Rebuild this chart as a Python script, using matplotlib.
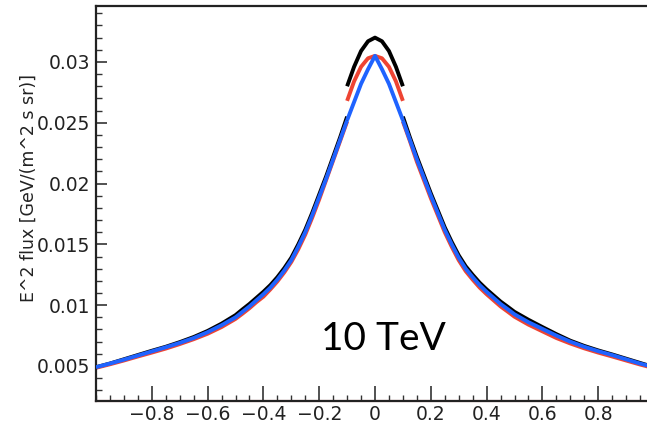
import matplotlib
matplotlib.use("Agg")
import matplotlib.pyplot as plt
from matplotlib.ticker import MultipleLocator, FuncFormatter

# ---- data ----
x_left = [-1.0, -0.95, -0.9, -0.85, -0.8, -0.75, -0.7, -0.65, -0.6, -0.55, -0.5,
          -0.475, -0.45, -0.425, -0.4, -0.375, -0.35, -0.325, -0.3, -0.275, -0.25,
          -0.225, -0.2, -0.175, -0.15, -0.125, -0.1]
blue_left = [0.0049, 0.0052, 0.00552, 0.00586, 0.0062, 0.00654, 0.0069, 0.0073, 0.00778,
             0.00835, 0.0090, 0.00945, 0.0099, 0.0104, 0.0109, 0.01145, 0.0121, 0.01285, 0.0137,
             0.0148, 0.0160, 0.0174, 0.0189, 0.0204, 0.0220, 0.0236, 0.0252]
black_left = [0.0049, 0.0052, 0.00555, 0.0059, 0.00625, 0.00658, 0.00696, 0.00738, 0.00788,
              0.00848, 0.00918, 0.00965, 0.0101, 0.0106, 0.0111, 0.01165, 0.0123, 0.01305, 0.0139,
              0.0150, 0.0162, 0.0176, 0.0191, 0.0206, 0.0222, 0.0238, 0.0255]
red_left = [0.00485, 0.00514, 0.00545, 0.00578, 0.0061, 0.00643, 0.0068, 0.0072, 0.00765,
            0.0082, 0.00887, 0.0093, 0.00975, 0.01025, 0.0107, 0.0113, 0.01195, 0.0127, 0.01355,
            0.0146, 0.0158, 0.0172, 0.0187, 0.0203, 0.0219, 0.0235, 0.0251]

x_right = [0.1, 0.125, 0.15, 0.175, 0.2, 0.225, 0.25, 0.275, 0.3, 0.325, 0.35, 0.375,
           0.4, 0.425, 0.45, 0.475, 0.5, 0.55, 0.6, 0.65, 0.7, 0.75, 0.8, 0.85, 0.9, 0.95, 1.0]
blue_right = [0.0252, 0.0236, 0.0220, 0.0205, 0.0190, 0.0176, 0.0162, 0.0150, 0.0139,
              0.0130, 0.0123, 0.01165, 0.0111, 0.0106, 0.0101, 0.00968, 0.00925, 0.0086,
              0.00805, 0.0075, 0.00700, 0.00658, 0.00622, 0.0059, 0.00555, 0.0052, 0.0049]
black_right = [0.0255, 0.0238, 0.0222, 0.0207, 0.0192, 0.0178, 0.0164, 0.0152, 0.0141,
               0.0132, 0.0125, 0.01185, 0.0113, 0.0108, 0.0103, 0.00988, 0.00945, 0.0088,
               0.0082, 0.00762, 0.00708, 0.00665, 0.00628, 0.00595, 0.0056, 0.00525, 0.0049]
red_right = [0.0251, 0.0235, 0.0218, 0.0203, 0.0188, 0.0174, 0.0160, 0.0148, 0.0137,
             0.0128, 0.0121, 0.01145, 0.0109, 0.0104, 0.0099, 0.00948, 0.00905, 0.0084,
             0.00785, 0.0073, 0.00685, 0.00645, 0.0061, 0.00578, 0.00545, 0.00512, 0.00482]

x_center = [-0.1, -0.075, -0.05, -0.025, 0.0, 0.025, 0.05, 0.075, 0.1]
blue_center = [0.0252, 0.0267, 0.0282, 0.0294, 0.0305, 0.0294, 0.0282, 0.0267, 0.0252]
black_center = [0.0280, 0.0296, 0.0309, 0.0317, 0.0320, 0.0317, 0.0309, 0.0296, 0.0280]
red_center = [0.0268, 0.0284, 0.0296, 0.0303, 0.0305, 0.0303, 0.0296, 0.0284, 0.0268]

xtick_vals = [-0.8, -0.6, -0.4, -0.2, 0.0, 0.2, 0.4, 0.6, 0.8]
ytick_vals = [0.005, 0.01, 0.015, 0.02, 0.025, 0.03]
ylabel = "E^2 flux [GeV/(m^2 s sr)]"
annotation = "10 TeV"

# ---- figure ----
W, H = 647, 424
fig = plt.figure(figsize=(W / 100, H / 100), dpi=100)
left, right, bottom, top = 96, 654, 401, 6
ax = fig.add_axes([left / W, (H - bottom) / H, (right - left) / W, (bottom - top) / H])

black = "#000000"
red = "#ee4433"
blue = "#1f63ff"
lw = 2.8

for xs, ys in [(x_left, black_left), (x_right, black_right), (x_center, black_center)]:
    ax.plot(xs, ys, color=black, lw=lw, solid_capstyle="butt", solid_joinstyle="round", zorder=2)
for xs, ys in [(x_left, red_left), (x_right, red_right), (x_center, red_center)]:
    ax.plot(xs, ys, color=red, lw=lw, solid_capstyle="butt", solid_joinstyle="round", zorder=2)
for xs, ys in [(x_left, blue_left), (x_right, blue_right), (x_center, blue_center)]:
    ax.plot(xs, ys, color=blue, lw=lw, solid_capstyle="butt", solid_joinstyle="round", zorder=3)

ax.set_xlim(-1.0, 1.0)
ax.set_ylim(0.00212, 0.0346)

ax.set_xticks(xtick_vals)
ax.set_yticks(ytick_vals)
ax.xaxis.set_minor_locator(MultipleLocator(0.05))
ax.yaxis.set_minor_locator(MultipleLocator(0.001))
ax.xaxis.set_major_formatter(FuncFormatter(lambda v, p: "0" if abs(v) < 1e-9 else ("%g" % v).replace("-", "\u2212")))
ax.yaxis.set_major_formatter(FuncFormatter(lambda v, p: "%g" % v))

font = "DejaVu Sans"
for lab in ax.get_xticklabels() + ax.get_yticklabels():
    lab.set_fontfamily(font)
    lab.set_fontsize(13.5)
    lab.set_color("#222222")

ax.tick_params(which="major", direction="in", length=8, width=1.2, color="#333333")
ax.tick_params(which="minor", direction="in", length=4, width=1.0, color="#333333")
ax.tick_params(axis="x", which="both", top=False)
ax.tick_params(axis="y", which="both", right=False)
ax.tick_params(axis="x", which="major", length=11, pad=3)
ax.tick_params(axis="y", which="major", pad=4)

for s in ["left", "top", "bottom"]:
    ax.spines[s].set_linewidth(1.6)
    ax.spines[s].set_color("#222222")
ax.spines["right"].set_visible(False)
ax.axhline(0.00212 + 0.00004, color=red, lw=1.5, zorder=1, clip_on=False)

ax.set_ylabel(ylabel, family=font, fontsize=12.5, color="#222222")
ax.yaxis.set_label_coords(-0.104, 0.539)

ax.text(0.515, 0.157, annotation, transform=ax.transAxes, ha="center", va="center",
        family="Lato", fontsize=28, color="#000000")

fig.savefig("out.png", dpi=100)
